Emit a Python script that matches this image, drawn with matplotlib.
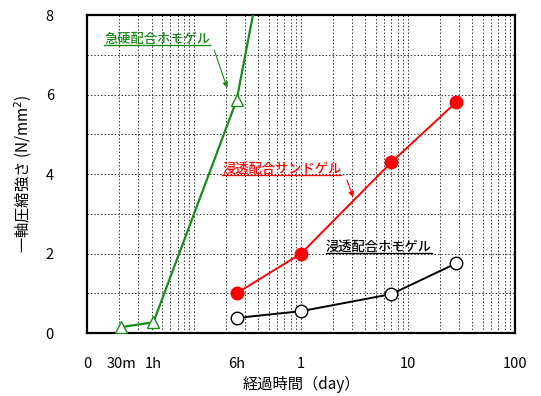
import numpy as np
import matplotlib
matplotlib.use('Agg')
from matplotlib import pyplot as plt
from matplotlib.ticker import LogLocator, MultipleLocator, NullFormatter
from matplotlib.lines import Line2D

plt.rcParams['font.family'] = ['Noto Sans CJK JP', 'DejaVu Sans']

# elapsed time in days (30m, 1h, 6h, ...)
t_green = [30 / 1440, 1 / 24, 0.25, 0.5]
v_green = [0.15, 0.27, 5.86, 10.1]   # 急硬配合ホモゲル

t_red = [0.25, 1, 7, 28]
v_red = [1.0, 2.0, 4.3, 5.8]         # 浸透配合サンドゲル

t_black = [0.25, 1, 7, 28]
v_black = [0.38, 0.55, 0.98, 1.75]   # 浸透配合ホモゲル

xtick_pos = [0.01, 30 / 1440, 1 / 24, 0.25, 1, 10, 100]
xtick_lab = ['0', '30m', '1h', '6h', '1', '10', '100']
ytick_pos = [0, 2, 4, 6, 8]

fig = plt.figure(figsize=(5.41, 3.96), dpi=100)
ax = fig.add_axes([0.161, 0.159, 0.791, 0.803])

ax.plot(t_green, v_green, color='#1a8a1a', lw=1.6, marker='^', ms=8,
        mfc='white', mec='#1a8a1a', zorder=3)
ax.plot(t_red, v_red, color='red', lw=1.4, marker='o', ms=9,
        mfc='red', mec='red', zorder=3)
ax.plot(t_black, v_black, color='black', lw=1.4, marker='o', ms=9,
        mfc='white', mec='black', zorder=3)

ax.set_xscale('log')
ax.set_xlim(0.01, 100)
ax.set_ylim(0, 8)
ax.set_xticks(xtick_pos)
ax.set_xticklabels(xtick_lab)
ax.set_yticks(ytick_pos)
ax.xaxis.set_minor_locator(LogLocator(base=10, subs=np.arange(1, 10), numticks=20))
ax.xaxis.set_minor_formatter(NullFormatter())
ax.xaxis.remove_overlapping_locs = False
ax.yaxis.set_minor_locator(MultipleLocator(1))
ax.yaxis.remove_overlapping_locs = False
ax.tick_params(which='both', length=0)
ax.tick_params(axis='x', pad=17, labelsize=10.5)
ax.tick_params(axis='y', pad=24, labelsize=10.5)

gstyle = dict(color='#333333', lw=0.7, ls=(0, (1.5, 2)))
ax.grid(which='minor', axis='x', **gstyle)
ax.grid(which='minor', axis='y', **gstyle)
ax.set_axisbelow(True)

for s in ax.spines.values():
    s.set_linewidth(1.6)

ax.set_xlabel('経過時間（day）', fontsize=11, labelpad=4)
ax.set_ylabel('一軸圧縮強さ (N/mm$^2$)', fontsize=11, labelpad=8)

# labels with underline
labels = [
    ('急硬配合ホモゲル', 0.0144, 7.22, '#1a8a1a'),
    ('浸透配合サンドゲル', 0.183, 3.95, 'red'),
    ('浸透配合ホモゲル', 1.71, 1.99, 'black'),
]
texts = []
for s, x, y, c in labels:
    t = ax.text(x, y, s, color=c, fontsize=9.5, fontweight='medium',
                ha='left', va='bottom')
    texts.append((t, c))

fig.canvas.draw()
r = fig.canvas.get_renderer()
inv = ax.transData.inverted()
for t, c in texts:
    bb = t.get_window_extent(r)
    (x0, y0), (x1, y1) = inv.transform([[bb.x0, bb.y0 + 1], [bb.x1, bb.y0 + 1]])
    ax.add_line(Line2D([x0, x1], [y0, y1], color=c, lw=1.0))

ax.annotate('', xy=(0.208, 6.1), xytext=(0.151, 7.19),
            arrowprops=dict(arrowstyle='-|>', color='#1a8a1a', lw=0.8,
                            mutation_scale=8))
ax.annotate('', xy=(3.13, 3.35), xytext=(2.63, 3.92),
            arrowprops=dict(arrowstyle='-|>', color='red', lw=0.8,
                            mutation_scale=8))

fig.savefig('out.png', dpi=100)
